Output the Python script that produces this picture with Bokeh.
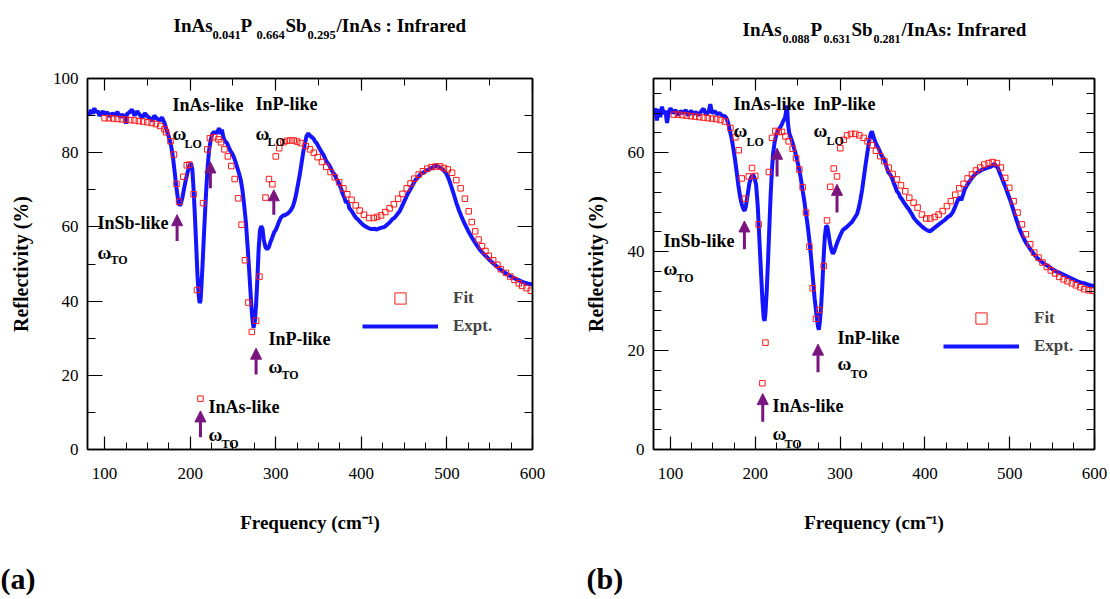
from bokeh.plotting import figure
from bokeh.layouts import row, column
from bokeh.models import (Range1d, FixedTicker, LinearAxis, Label, Arrow, NormalHead,
                          ColumnDataSource, Legend, LegendItem, CustomLabelingPolicy)
from bokeh.embed import file_html
from bokeh.resources import INLINE

# ---------------- data : panel (a) ----------------
a_expt_x = [80, 82, 84, 86, 88, 90, 92, 94, 96, 98, 100, 103, 106, 109, 112, 115, 118, 121, 124, 125,
            126, 129, 132, 135, 138, 141, 144, 147, 150, 153, 156, 158, 161, 164, 167, 170, 172, 174, 176, 178,
            180, 182, 184, 186, 187.5, 189, 191, 193, 195, 197, 199, 201, 202.5, 204, 205.5, 207, 208.5, 210, 211, 212,
            213, 214.5, 216, 217.5, 219, 220.5, 222, 224, 226, 228, 230, 232, 234, 235.5, 237, 239, 241, 243, 245, 247,
            249, 251, 253, 255, 257, 259, 261, 263, 265, 267, 269, 271, 272.5, 274, 275.5, 277, 278.5, 280, 281.5, 283,
            284.5, 286, 288, 290, 292, 294, 296, 298, 300, 302, 304, 306, 308, 311, 314, 317, 320, 322, 324, 326,
            328, 330, 332, 334, 336, 338, 340, 342, 344, 346, 348, 350, 352, 354, 356, 358, 360, 362, 364, 366,
            368, 370, 372, 374, 376, 378, 380, 382, 384, 386, 388, 390, 392, 394, 396, 398, 400, 403, 406, 409,
            412, 415, 418, 421, 424, 427, 430, 433, 436, 439, 442, 445, 448, 451, 454, 457, 460, 463, 466, 469,
            472, 475, 478, 481, 484, 487, 490, 493, 496, 499, 502, 505, 508, 511, 514, 517, 520, 523, 526, 529,
            532, 535, 538, 541, 544, 547, 550, 555, 560, 565, 570, 575, 580, 585, 590, 595, 600]
a_expt_y = [91.0, 90.2, 91.5, 90.5, 92.0, 90.8, 91.3, 89.9, 90.6, 91.2, 90.4, 90.9, 89.8, 90.6, 90.1, 91.0, 89.6, 90.3, 89.2, 87.8,
            90.4, 90.9, 91.6, 90.0, 91.2, 90.2, 89.4, 90.6, 89.8, 89.3, 88.6, 90.0, 89.2, 88.6, 89.5, 88.0, 86.5, 85.0, 83.5, 81.5,
            78.5, 74.5, 70.5, 67.0, 65.8, 66.2, 68.0, 70.5, 72.8, 74.8, 76.5, 77.2, 75.5, 70.0, 63.0, 55.0, 47.0, 41.5, 39.5, 40.0,
            43.5, 50.0, 57.5, 64.5, 71.0, 76.5, 80.5, 83.5, 85.2, 85.6, 85.2, 85.8, 86.6, 85.0, 86.2, 84.0, 83.0, 82.6, 81.5, 80.5,
            79.8, 78.8, 77.5, 76.0, 74.5, 72.8, 70.0, 66.0, 61.5, 55.0, 48.0, 40.5, 35.5, 32.8, 34.5, 39.0, 46.0, 54.0, 59.0, 60.2,
            59.5, 56.5, 54.5, 54.0, 54.6, 56.0, 57.2, 58.5, 59.2, 60.3, 61.5, 62.5, 63.0, 63.2, 63.6, 64.3, 65.5, 67.0, 69.0, 71.5,
            74.0, 77.0, 80.0, 82.5, 84.5, 85.2, 84.6, 84.2, 83.8, 83.0, 82.5, 81.6, 80.8, 80.0, 79.3, 78.2, 77.4, 76.8, 76.0, 75.0,
            74.3, 73.5, 72.5, 71.7, 70.5, 69.0, 68.0, 66.5, 67.0, 65.0, 64.5, 63.8, 63.0, 62.4, 62.0, 61.5, 61.0, 60.4, 60.0, 59.6,
            59.4, 59.5, 59.3, 59.6, 59.8, 60.0, 60.6, 61.2, 62.0, 62.5, 63.4, 64.3, 65.8, 67.3, 68.8, 70.0, 71.3, 72.6, 73.3, 74.2,
            74.6, 75.0, 75.4, 75.8, 76.1, 76.5, 76.2, 75.8, 75.3, 74.5, 73.0, 71.0, 68.8, 66.5, 64.5, 62.8, 61.2, 59.8, 58.4, 57.2,
            56.1, 55.0, 54.0, 53.2, 52.5, 51.8, 51.0, 50.0, 49.0, 48.1, 47.3, 46.6, 46.0, 45.5, 45.0, 44.7, 44.5]

a_fit_x = [100, 105, 110, 115, 120, 125, 130, 135, 140, 145, 150, 155, 160, 165, 170, 172, 177, 181, 184, 187,
           192, 196, 199, 204, 208, 212, 215, 220, 223, 228, 233, 236, 240, 244, 248, 252, 256, 260, 264, 268,
           272, 277, 281, 288, 292, 296, 300, 304, 309, 313, 317, 321, 325, 329, 335, 340, 344.5, 349, 354, 359,
           364, 369, 374, 379, 383.5, 388.5, 393.5, 398, 403, 409, 414.5, 418.5, 423, 428, 433, 438, 443, 448, 453, 457.5,
           462, 467, 472, 477, 482, 487, 492, 496.5, 501, 506, 511, 516, 521, 525.5, 529, 533, 537, 541, 545, 549,
           554, 559, 563, 569, 574, 579, 584, 588, 593, 598]
a_fit_y = [89.3, 89.3, 89.2, 89.1, 89.0, 88.9, 88.8, 88.7, 88.5, 88.4, 88.2, 88.0, 87.7, 87.2, 86.3, 85.5, 83.1, 79.5, 71.6, 66.8,
           73.5, 76.6, 76.8, 68.8, 43.0, 13.7, 66.4, 80.9, 83.9, 84.2, 83.6, 82.8, 80.9, 79.0, 76.4, 72.9, 67.7, 60.6, 51.0, 39.6,
           31.7, 34.7, 46.6, 67.9, 72.9, 71.5, 79.0, 81.2, 82.8, 83.2, 83.3, 83.3, 83.0, 82.6, 81.8, 80.9, 80.0, 78.8, 77.5, 76.2,
           74.8, 73.4, 72.0, 70.4, 68.8, 67.3, 65.8, 64.4, 63.3, 62.4, 62.4, 62.7, 63.1, 64.0, 65.0, 66.1, 67.6, 68.9, 70.4, 71.7,
           73.0, 74.1, 75.0, 75.7, 76.1, 76.3, 76.3, 75.9, 75.5, 74.6, 72.6, 70.4, 67.6, 64.2, 61.3, 58.8, 56.6, 54.8, 53.5, 52.2,
           51.0, 49.8, 48.6, 47.6, 46.6, 45.7, 44.8, 44.1, 43.5, 42.8]

# arrows (a): x, tail y, head y
a_arrow_x = [184.7, 223.6, 297.7, 277.0, 212.0]
a_arrow_y0 = [56.2, 70.4, 63.3, 20.2, 3.3]
a_arrow_y1 = [63.3, 77.5, 70.0, 27.3, 10.4]

# ---------------- data : panel (b) ----------------
b_expt_x = [80, 82, 84, 86, 88, 90, 92, 94, 96, 98, 100, 103, 106, 109, 112, 115, 118, 121, 124, 127,
            130, 133, 136, 139, 142, 145, 147, 149, 152, 155, 158, 161, 164, 166, 168, 170, 172, 174, 176, 178,
            180, 182, 184, 186, 187.5, 189, 191, 193, 195, 197, 199, 201, 203, 205, 207, 208.5, 210, 211, 212, 213.5,
            215, 216.5, 218, 219.5, 221, 223, 225, 227, 229, 231, 233, 235, 236.5, 237.5, 238.5, 240, 242, 244, 246, 248,
            250, 252, 254, 256, 258, 260, 262, 264, 266, 268, 270, 272, 274, 275, 276, 277.5, 279, 280.5, 282, 283.5,
            285, 286.5, 288, 290, 291.5, 293, 295, 297, 299, 301, 303, 305, 308, 311, 314, 317, 320, 322, 324, 326,
            328, 330, 332, 334, 336, 337.5, 339, 341, 343, 345, 347, 349, 351, 353, 355, 357, 359, 361, 363, 365,
            367, 369, 371, 373, 375, 377, 379, 381, 383, 385, 387, 389, 391, 394, 397, 400, 403, 406, 409, 412,
            415, 418, 421, 424, 427, 430, 433, 436, 439, 441, 443, 445, 447, 450, 453, 456, 459, 462, 465, 468,
            471, 474, 477, 480, 482, 484, 486, 488, 490, 492, 494, 496, 498, 500, 502, 504, 506, 508, 510, 512,
            514, 516, 518, 520, 523, 526, 529, 532, 535, 538, 541, 545, 550, 555, 560, 565, 570, 575, 580, 585,
            590, 595, 600]
b_expt_y = [67.5, 69.0, 66.5, 68.8, 67.2, 69.3, 67.8, 68.5, 66.0, 68.2, 69.0, 68.0, 68.6, 67.6, 68.4, 68.0, 68.6, 67.5, 68.5, 67.8,
            68.2, 67.6, 68.3, 68.9, 67.7, 68.3, 69.8, 68.0, 68.4, 67.8, 68.0, 67.5, 67.4, 67.0, 66.0, 64.5, 63.0, 61.0, 58.8, 56.2,
            53.5, 51.2, 49.6, 48.6, 48.3, 49.2, 51.5, 53.8, 55.0, 55.6, 55.0, 53.5, 49.0, 42.0, 35.0, 30.0, 26.5, 26.0, 27.5, 32.0,
            38.0, 44.5, 51.0, 56.0, 59.8, 62.3, 63.8, 64.5, 65.0, 65.6, 66.4, 67.0, 68.5, 69.5, 66.0, 64.0, 63.0, 62.0, 60.8, 59.5,
            58.0, 56.5, 54.5, 52.2, 50.0, 47.5, 45.0, 42.0, 38.5, 34.5, 30.5, 27.5, 24.8, 24.2, 25.5, 28.5, 33.0, 38.5, 43.0, 45.2,
            45.0, 43.5, 41.8, 40.2, 39.6, 40.0, 41.0, 42.0, 42.8, 43.6, 44.3, 44.6, 45.0, 45.5, 46.0, 46.8, 47.6, 48.8, 50.5, 52.5,
            55.0, 57.5, 59.8, 62.0, 63.8, 64.3, 63.5, 62.4, 61.6, 61.0, 60.2, 59.4, 58.9, 58.2, 57.0, 56.0, 55.6, 55.0, 54.0, 53.2,
            52.2, 51.8, 51.0, 50.6, 50.0, 49.5, 49.0, 48.6, 48.0, 47.5, 46.8, 46.4, 46.0, 45.5, 45.0, 44.6, 44.3, 44.1, 44.5, 44.9,
            45.3, 45.7, 46.1, 46.5, 47.0, 47.3, 48.0, 49.2, 50.5, 51.0, 50.4, 51.5, 52.6, 53.5, 54.3, 55.0, 55.6, 56.0, 56.3, 56.6,
            56.8, 57.0, 57.1, 57.4, 57.8, 57.2, 57.0, 56.0, 55.2, 54.3, 53.5, 52.6, 51.6, 50.7, 49.7, 48.6, 47.5, 46.4, 45.4, 44.4,
            43.6, 42.9, 42.2, 41.6, 40.8, 40.1, 39.4, 38.8, 38.3, 37.9, 37.5, 37.1, 36.5, 36.0, 35.6, 35.2, 34.8, 34.4, 34.0, 33.7,
            33.5, 33.2, 33.0]

b_fit_x = [104, 109, 114, 119, 124, 129, 134, 139, 144, 149, 154, 159, 164, 170.7, 176.6, 180.5, 184, 187.6, 192.3, 196.2,
           200, 204, 208.4, 212, 216, 219.8, 223.7, 227.6, 231.6, 235.5, 239.4, 244.1, 248.1, 252, 255.9, 259.9, 263.8, 267.7, 271.6, 275.6,
           280.7, 284.6, 288.5, 292.5, 296.4, 300.3, 304.2, 308.2, 312.9, 318, 322.7, 327.8, 332.5, 337.6, 342.3, 347.4, 352.2, 357.3, 362, 367.1,
           371.8, 376.9, 381.6, 386.7, 391.4, 396.5, 401.6, 406.4, 411.5, 416.2, 420.9, 426, 430.7, 435.8, 440.5, 445.6, 450.4, 455.5, 460.2, 465.3,
           470, 475.1, 479.8, 484.9, 489.6, 494.7, 499.5, 504.6, 509.3, 514.4, 519.1, 524.2, 528.9, 534, 538.7, 543.8, 548.5, 553.6, 558.4, 563.5,
           568.2, 573.3, 578, 583.1, 587.8, 592.9, 597.6]
b_fit_y = [67.7, 67.7, 67.6, 67.5, 67.4, 67.3, 67.2, 67.1, 67.0, 66.9, 66.8, 66.6, 66.3, 65.0, 63.1, 60.5, 54.8, 50.7, 55.2, 56.9,
           55.3, 45.5, 13.4, 21.6, 56.1, 63.0, 64.4, 64.2, 64.2, 63.3, 62.3, 60.8, 58.9, 56.6, 53.0, 47.9, 41.0, 32.6, 26.4, 28.2,
           37.1, 46.3, 53.1, 56.8, 55.2, 60.9, 62.6, 63.5, 63.8, 63.8, 63.5, 63.0, 62.3, 61.5, 60.4, 59.3, 58.3, 57.0, 55.7, 54.6,
           53.4, 52.2, 50.9, 49.9, 48.9, 47.5, 46.7, 46.7, 47.0, 47.5, 48.2, 49.2, 50.2, 51.5, 52.8, 53.7, 54.8, 55.6, 56.4, 57.0,
           57.6, 57.9, 58.1, 57.9, 57.0, 54.9, 52.9, 50.2, 47.9, 45.5, 43.5, 41.5, 39.8, 38.8, 37.8, 36.9, 36.2, 35.6, 34.9, 34.4,
           34.0, 33.6, 33.2, 32.8, 32.4, 32.2, 32.1]

b_arrow_x = [187.2, 225.7, 296.4, 274.0, 208.8]
b_arrow_y0 = [40.5, 55.2, 47.9, 15.6, 5.6]
b_arrow_y1 = [46.2, 60.9, 53.6, 21.3, 11.3]

# tick values
x_major = [100, 200, 300, 400, 500, 600]
x_minor = [125, 150, 175, 225, 250, 275, 325, 350, 375, 425, 450, 475, 525, 550, 575]
x_top_minor = [150, 250, 350, 450, 550]
a_y_major = [0, 20, 40, 60, 80, 100]
a_y_minor = [10, 30, 50, 70, 90]
b_y_major = [0, 20, 40, 60]
b_y_minor = [4, 8, 12, 16, 24, 28, 32, 36, 44, 48, 52, 56, 64, 68, 72]

FONT = "Liberation Serif"
BLUE = "#1414ff"
RED = "#ff1a1a"
PURPLE = "#7a1580"

W, H = 1110, 599
TOP_H, BOT_H = 50, 60          # title strip / caption strip heights
MID_H = H - TOP_H - BOT_H

# texts outside the plot frames: (text, page x, page y, size, baseline)
TOP_TEXTS = [("InAs", 173, 25, "19px", "alphabetic"), ("0.041", 212, 34.5, "12.5px", "alphabetic"),
             ("P", 240, 25, "19px", "alphabetic"), ("0.664", 256, 34.5, "12.5px", "alphabetic"),
             ("Sb", 285, 25, "19px", "alphabetic"), ("0.295", 307, 34.5, "12.5px", "alphabetic"),
             ("/InAs : Infrared", 336, 25, "19px", "alphabetic"),
             ("InAs", 742, 29, "19px", "alphabetic"), ("0.088", 782, 38, "12px", "alphabetic"),
             ("P", 810, 29, "19px", "alphabetic"), ("0.631", 823, 38, "12px", "alphabetic"),
             ("Sb", 851, 29, "19px", "alphabetic"), ("0.281", 873, 38, "12px", "alphabetic"),
             ("/InAs: Infrared", 901, 29, "19px", "alphabetic")]
BOT_TEXTS = [("(a)", 0, 578, "30px", "middle"), ("(b)", 586, 578, "30px", "middle")]

PANELS = [
    dict(offset=0, frame=(87, 532, 76, 451), ymax=100, ymaj=a_y_major, ymin=a_y_minor, ylab_standoff=18,
         ex=a_expt_x, ey=a_expt_y, fx=a_fit_x, fy=a_fit_y,
         ax=a_arrow_x, ay0=a_arrow_y0, ay1=a_arrow_y1,
         notes=[("InAs-like", 172, 103, "18px"), ("\u03c9", 172, 132, "19px"), ("LO", 184, 142, "12px"),
                ("InP-like", 255, 102, "18px"), ("\u03c9", 255, 132, "19px"), ("LO", 267, 140, "12px"),
                ("InSb-like", 97, 222, "18px"), ("\u03c9", 97, 252, "19px"), ("TO", 110, 259, "12px"),
                ("InP-like", 268, 339, "18px"), ("\u03c9", 268, 367, "19px"), ("TO", 281, 376, "12px"),
                ("InAs-like", 208, 408, "18px"), ("\u03c9", 208, 436, "19px"), ("TO", 221, 445, "12px")],
         legend=(362, 299.5)),
    dict(offset=555, frame=(653, 1094, 78, 449), ymax=75, ymaj=b_y_major, ymin=b_y_minor, ylab_standoff=18,
         ex=b_expt_x, ey=b_expt_y, fx=b_fit_x, fy=b_fit_y,
         ax=b_arrow_x, ay0=b_arrow_y0, ay1=b_arrow_y1,
         notes=[("InAs-like", 733, 103, "18px"), ("\u03c9", 733, 130, "19px"), ("LO", 746, 141, "12px"),
                ("InP-like", 813, 103, "18px"), ("\u03c9", 813, 130, "19px"), ("LO", 826, 140, "12px"),
                ("InSb-like", 663, 240, "18px"), ("\u03c9", 663, 268, "19px"), ("TO", 676, 277, "12px"),
                ("InP-like", 837, 337, "18px"), ("\u03c9", 837, 363, "19px"), ("TO", 850, 373, "12px"),
                ("InAs-like", 772, 405, "18px"), ("\u03c9", 772, 433, "19px"), ("TO", 784, 443, "12px")],
         legend=(943, 317.5)),
]

NO_LABELS = CustomLabelingPolicy(code="""
for (const i of indices) indices.unset(i)
return indices
""")


def strip(height, y_top, texts):
    """A bare figure spanning the page width whose data units are page pixels."""
    s = figure(width=W, height=height, x_range=Range1d(0, W), y_range=Range1d(0, height),
               output_backend="svg", toolbar_location=None, x_axis_type=None, y_axis_type=None,
               title=None, min_border=0, min_border_left=0, min_border_right=0,
               min_border_top=0, min_border_bottom=0)
    s.outline_line_color = None
    s.xgrid.visible = False
    s.ygrid.visible = False
    for txt, X, Y, size, base in texts:
        s.add_layout(Label(x=X, y=y_top + height - Y, text=txt, text_font=FONT, text_font_style="bold",
                           text_font_size=size, text_color="black",
                           text_align="left", text_baseline=base))
    return s


def build(P):
    L, R, T, B = P["frame"]
    off = P["offset"]
    ymax = P["ymax"]

    def to_data(X, Y):
        return 80 + (X - L) / (R - L) * 520, (B - Y) / (B - T) * ymax

    p = figure(width=555, height=MID_H, x_range=Range1d(80, 600), y_range=Range1d(0, ymax),
               output_backend="svg", toolbar_location=None,
               min_border_left=L - off, min_border_right=off + 555 - R,
               min_border_top=T - TOP_H, min_border_bottom=TOP_H + MID_H - B)
    p.xgrid.visible = False
    p.ygrid.visible = False
    p.outline_line_color = "black"
    p.outline_line_width = 1.5
    p.background_fill_color = "white"
    p.border_fill_color = "white"

    xa = p.xaxis[0]
    xa.ticker = FixedTicker(ticks=x_major, minor_ticks=x_minor)
    ya = p.yaxis[0]
    ya.ticker = FixedTicker(ticks=P["ymaj"], minor_ticks=P["ymin"])
    xa.axis_label = "Frequency (cm\u207b\u00b9)"
    ya.axis_label = "Reflectivity (%)"
    for ax, mj, mn in ((xa, 13, 7), (ya, 15, 8)):
        ax.major_tick_in = mj
        ax.major_tick_out = 0
        ax.minor_tick_in = mn
        ax.minor_tick_out = 0
        ax.axis_line_width = 1.5
        ax.major_tick_line_width = 1.2
        ax.minor_tick_line_width = 1.0
        ax.major_label_text_font = FONT
        ax.major_label_text_font_size = "17px"
        ax.major_label_text_color = "black"
        ax.axis_label_text_font = FONT
        ax.axis_label_text_font_style = "bold"
        ax.axis_label_text_color = "black"
    xa.axis_label_text_font_size = "19px"
    ya.axis_label_text_font_size = "20px"
    xa.major_label_standoff = 18
    xa.axis_label_standoff = 30
    ya.major_label_standoff = 9
    ya.axis_label_standoff = P["ylab_standoff"]

    top = LinearAxis(ticker=FixedTicker(ticks=x_major, minor_ticks=x_top_minor))
    right = LinearAxis(ticker=FixedTicker(ticks=P["ymaj"], minor_ticks=P["ymin"]))
    for ax, mj, mn in ((top, 12, 7), (right, 15, 8)):
        ax.major_tick_in = mj
        ax.major_tick_out = 0
        ax.minor_tick_in = mn
        ax.minor_tick_out = 0
        ax.axis_line_width = 1.5
        ax.major_tick_line_width = 1.2
        ax.minor_tick_line_width = 1.0
        ax.major_label_policy = NO_LABELS
        ax.major_label_standoff = 0
    p.add_layout(top, "above")
    p.add_layout(right, "right")

    line_r = p.line(P["ex"], P["ey"], line_color=BLUE, line_width=4)
    fit_r = p.scatter(P["fx"], P["fy"], marker="square", size=5.5, fill_color=None,
                      line_color=RED, line_width=1)

    src = ColumnDataSource(dict(x=P["ax"], y0=P["ay0"], y1=P["ay1"]))
    p.add_layout(Arrow(source=src, x_start="x", y_start="y0", x_end="x", y_end="y1",
                       line_color=PURPLE, line_width=3,
                       end=NormalHead(size=11, fill_color=PURPLE, line_color=PURPLE)))

    for txt, X, Y, size in P["notes"]:
        x, y = to_data(X, Y)
        p.add_layout(Label(x=x, y=y, text=txt, text_font=FONT, text_font_style="bold",
                           text_font_size=size, text_color="black",
                           text_align="left", text_baseline="alphabetic"))

    lx, fit_cy = P["legend"]
    gh = 28
    legend = Legend(items=[LegendItem(label="Fit", renderers=[fit_r]),
                           LegendItem(label="Expt.", renderers=[line_r])],
                    location=(lx - L, B - (fit_cy - gh / 2 + 2 * gh)),
                    glyph_width=76, glyph_height=gh, spacing=0, padding=0, margin=0,
                    label_standoff=15, label_text_font=FONT, label_text_font_style="bold",
                    label_text_font_size="17px", border_line_color=None,
                    background_fill_alpha=0)
    p.add_layout(legend)
    return p


page = column(strip(TOP_H, 0, TOP_TEXTS),
              row(build(PANELS[0]), build(PANELS[1])),
              strip(BOT_H, TOP_H + MID_H, BOT_TEXTS))
open("out.html", "w").write(file_html(page, INLINE))
